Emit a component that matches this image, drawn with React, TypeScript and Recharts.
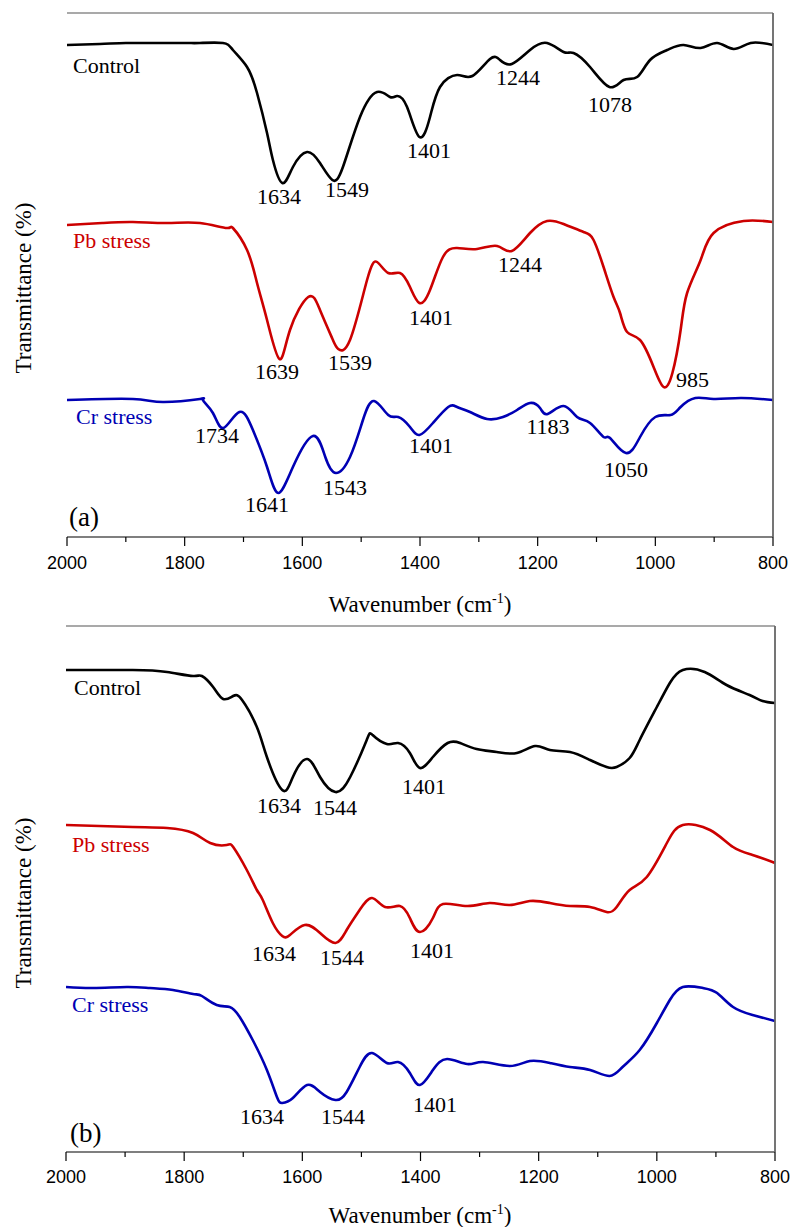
import React from 'react';
import { LineChart, Line, XAxis, YAxis } from 'recharts';

// ---------- data (wavenumber cm-1, transmittance in arbitrary offset units) ----------
const wavenumberTicks = [2000, 1900, 1800, 1700, 1600, 1500, 1400, 1300, 1200, 1100, 1000, 900, 800];
const seriesNames = ['Control', 'Pb stress', 'Cr stress'];

const controlA: [number, number][] = [
  [2000, 492], [1944, 493], [1900, 494], [1859, 494], [1800, 494], [1774, 494], [1735, 494], [1718, 487],
  [1694, 470], [1677, 444], [1660, 404], [1650, 377], [1634, 354], [1616, 370], [1592, 385], [1570, 374],
  [1549, 357], [1531, 370], [1502, 420], [1473, 445], [1451, 440], [1439, 441], [1422, 430], [1401, 400],
  [1383, 420], [1366, 450], [1337, 462], [1311, 461], [1281, 478], [1264, 477], [1244, 473], [1213, 487],
  [1184, 494], [1156, 485], [1139, 484], [1111, 470], [1078, 450], [1054, 457], [1031, 460], [1009, 477],
  [980, 487], [952, 492], [923, 489], [895, 494], [867, 488], [838, 494], [800, 492],
];
const pbA: [number, number][] = [
  [2000, 312], [1940, 314], [1888, 315], [1830, 314], [1774, 314], [1728, 309], [1718, 309], [1694, 287],
  [1677, 254], [1660, 217], [1639, 178], [1621, 207], [1590, 240], [1570, 227], [1548, 197], [1539, 188],
  [1519, 197], [1490, 257], [1473, 275], [1454, 264], [1434, 264], [1417, 250], [1401, 234], [1383, 247],
  [1361, 280], [1337, 289], [1303, 288], [1269, 291], [1244, 286], [1213, 304], [1184, 316], [1156, 313],
  [1122, 305], [1105, 297], [1088, 270], [1071, 240], [1060, 224], [1048, 205], [1026, 197], [1003, 170],
  [986, 150], [971, 164], [957, 207], [946, 244], [923, 277], [901, 304], [850, 316], [800, 315],
];
const crA: [number, number][] = [
  [2000, 137], [1888, 138], [1837, 135], [1774, 138], [1769, 137], [1752, 124], [1734, 109], [1707, 125],
  [1684, 107], [1660, 70], [1641, 44], [1616, 70], [1582, 101], [1561, 80], [1543, 64], [1519, 80],
  [1497, 117], [1478, 136], [1454, 122], [1437, 120], [1417, 110], [1401, 102], [1378, 114], [1352, 130],
  [1337, 130], [1315, 125], [1286, 118], [1259, 120], [1235, 127], [1213, 134], [1196, 129], [1183, 123],
  [1156, 131], [1133, 120], [1111, 114], [1088, 100], [1077, 99], [1050, 84], [1026, 100], [1000, 120],
  [974, 122], [957, 130], [932, 139], [901, 138], [855, 139], [800, 137],
];

const controlB: [number, number][] = [
  [2000, 482], [1887, 482], [1829, 480], [1785, 476], [1770, 476], [1751, 465], [1734, 453], [1717, 456],
  [1702, 452], [1677, 425], [1660, 395], [1634, 362], [1616, 375], [1592, 393], [1570, 375], [1544, 360],
  [1519, 375], [1491, 412], [1481, 417], [1457, 408], [1438, 409], [1418, 399], [1401, 384], [1379, 395],
  [1354, 409], [1333, 409], [1305, 403], [1271, 400], [1237, 399], [1206, 406], [1181, 402], [1147, 400],
  [1113, 392], [1085, 385], [1068, 385], [1046, 394], [1029, 412], [1000, 445], [978, 469], [956, 482],
  [919, 480], [882, 467], [843, 457], [821, 451], [800, 449],
];
const pbB: [number, number][] = [
  [2000, 327], [1887, 325], [1829, 324], [1785, 319], [1756, 309], [1728, 307], [1717, 305], [1694, 282],
  [1677, 262], [1667, 252], [1650, 229], [1634, 216], [1621, 217], [1596, 227], [1570, 219], [1544, 209],
  [1525, 222], [1503, 242], [1482, 254], [1460, 245], [1435, 246], [1418, 234], [1401, 220], [1379, 234],
  [1362, 248], [1321, 246], [1283, 249], [1249, 247], [1215, 251], [1181, 249], [1147, 246], [1113, 245],
  [1085, 240], [1068, 245], [1046, 262], [1017, 275], [983, 309], [956, 327], [910, 322], [871, 305],
  [838, 297], [800, 289],
];
const crB: [number, number][] = [
  [2000, 165], [1954, 164], [1897, 165], [1858, 164], [1819, 162], [1785, 158], [1770, 156], [1745, 147],
  [1723, 145], [1706, 135], [1684, 112], [1660, 82], [1643, 55], [1634, 49], [1616, 54], [1592, 67],
  [1570, 60], [1544, 52], [1525, 60], [1503, 85], [1482, 99], [1457, 89], [1438, 90], [1418, 79],
  [1401, 67], [1379, 82], [1355, 93], [1321, 88], [1294, 90], [1249, 86], [1215, 91], [1181, 89],
  [1147, 85], [1113, 82], [1080, 76], [1058, 85], [1029, 102], [1000, 129], [978, 152], [956, 165],
  [922, 164], [898, 159], [871, 145], [838, 137], [800, 131],
];

// peak labels (text) per panel
const peaksA = ['1634', '1549', '1401', '1244', '1078', '1639', '1539', '1401', '1244', '985', '1734', '1641', '1543', '1401', '1183', '1050'];
const peaksB = ['1634', '1544', '1401', '1634', '1544', '1401', '1634', '1544', '1401'];

// ---------- styling / layout ----------
const COLORS = ['#000000', '#cc0000', '#0000b4'];
const SERIF = '"Liberation Serif", "Times New Roman", serif';
const SANS = '"Liberation Sans", Arial, sans-serif';

const toRows = (pairs: [number, number][]) => pairs.map(([wn, t]) => ({ wn, t }));

const makeTick = (labelDy: number) => (props: any) => {
  const { x, y, payload } = props;
  const v = payload.value;
  const major = v % 200 === 0;
  return (
    <g>
      <line x1={x} y1={y} x2={x} y2={y + (major ? 9 : 5)} stroke="#000" strokeWidth={1.2} />
      {major && (
        <text x={x} y={y + labelDy} textAnchor="middle" fontFamily={SANS} fontSize={18} fill="#000">
          {v}
        </text>
      )}
    </g>
  );
};

type PanelProps = {
  top: number;
  height: number;
  margin: { top: number; right: number; left: number; bottom: number };
  axisHeight: number;
  yMax: number;
  series: [number, number][][];
  labelDy: number;
};

const Panel = ({ top, height, margin, axisHeight, yMax, series, labelDy }: PanelProps) => (
  <div style={{ position: 'absolute', left: 0, top }}>
    <LineChart width={792} height={height} margin={margin}>
      <XAxis
        dataKey="wn"
        type="number"
        domain={[800, 2000]}
        reversed
        ticks={wavenumberTicks}
        interval={0}
        tick={makeTick(labelDy)}
        tickLine={false}
        tickSize={0}
        tickMargin={0}
        height={axisHeight}
        axisLine={{ stroke: '#000', strokeWidth: 1.2 }}
        allowDataOverflow
      />
      <YAxis domain={[0, yMax]} tick={false} tickLine={false} width={0} axisLine={{ stroke: '#000', strokeWidth: 1.2 }} allowDataOverflow />
      {series.map((s, i) => (
        <Line
          key={seriesNames[i]}
          name={seriesNames[i]}
          data={toRows(s)}
          dataKey="t"
          type="natural"
          stroke={COLORS[i]}
          strokeWidth={2.6}
          dot={false}
          isAnimationActive={false}
        />
      ))}
    </LineChart>
  </div>
);

type Ann = { text: string; x: number; y: number; anchor?: 'start' | 'middle' | 'end'; color?: string; size?: number };

const annA: Ann[] = [
  { text: seriesNames[0], x: 73, y: 73, anchor: 'start', color: COLORS[0] },
  { text: peaksA[0], x: 279, y: 204 },
  { text: peaksA[1], x: 347, y: 197 },
  { text: peaksA[2], x: 429, y: 158 },
  { text: peaksA[3], x: 518, y: 85 },
  { text: peaksA[4], x: 610, y: 112 },
  { text: seriesNames[1], x: 73, y: 248, anchor: 'start', color: COLORS[1] },
  { text: peaksA[5], x: 277, y: 379 },
  { text: peaksA[6], x: 350, y: 370 },
  { text: peaksA[7], x: 431, y: 325 },
  { text: peaksA[8], x: 520, y: 272 },
  { text: peaksA[9], x: 676, y: 387, anchor: 'start' },
  { text: seriesNames[2], x: 76, y: 424, anchor: 'start', color: COLORS[2] },
  { text: peaksA[10], x: 217, y: 443 },
  { text: peaksA[11], x: 267, y: 512 },
  { text: peaksA[12], x: 345, y: 495 },
  { text: peaksA[13], x: 431, y: 453 },
  { text: peaksA[14], x: 548, y: 434 },
  { text: peaksA[15], x: 626, y: 477 },
  { text: '(a)', x: 69, y: 526, anchor: 'start', size: 27 },
];

const annB: Ann[] = [
  { text: seriesNames[0], x: 74, y: 695, anchor: 'start', color: COLORS[0] },
  { text: peaksB[0], x: 279, y: 813 },
  { text: peaksB[1], x: 335, y: 815 },
  { text: peaksB[2], x: 424, y: 794 },
  { text: seriesNames[1], x: 72, y: 852, anchor: 'start', color: COLORS[1] },
  { text: peaksB[3], x: 274, y: 961 },
  { text: peaksB[4], x: 342, y: 965 },
  { text: peaksB[5], x: 432, y: 958 },
  { text: seriesNames[2], x: 72, y: 1012, anchor: 'start', color: COLORS[2] },
  { text: peaksB[6], x: 262, y: 1124 },
  { text: peaksB[7], x: 343, y: 1124 },
  { text: peaksB[8], x: 435, y: 1112 },
  { text: '(b)', x: 70, y: 1142, anchor: 'start', size: 27 },
];

const XTitle = ({ y }: { y: number }) => (
  <text x={420} y={y} textAnchor="middle" fontFamily={SERIF} fontSize={23} fill="#000">
    Wavenumber (cm
    <tspan dy={-9} fontSize={14}>-1</tspan>
    <tspan dy={9} fontSize={23}>)</tspan>
  </text>
);

const YTitle = ({ cy }: { cy: number }) => (
  <text
    x={0}
    y={0}
    transform={`translate(31, ${cy}) rotate(-90)`}
    textAnchor="middle"
    fontFamily={SERIF}
    fontSize={23}
    fill="#000"
  >
    Transmittance (%)
  </text>
);

// plot frame (top and right sides)
const frames = [
  { left: 67, right: 773, top: 13, bottom: 537 },
  { left: 66, right: 775, top: 626, bottom: 1152 },
];

export default function App() {
  return (
    <div style={{ position: 'absolute', left: 0, top: 0, width: 792, height: 1227, background: '#fff' }}>
      <Panel
        top={0}
        height={615}
        margin={{ top: 13, right: 19, left: 67, bottom: 0 }}
        axisHeight={78}
        yMax={524}
        series={[controlA, pbA, crA]}
        labelDy={32}
      />
      <Panel
        top={615}
        height={612}
        margin={{ top: 11, right: 17, left: 66, bottom: 0 }}
        axisHeight={75}
        yMax={526}
        series={[controlB, pbB, crB]}
        labelDy={31}
      />
      <svg width={792} height={1227} style={{ position: 'absolute', left: 0, top: 0, pointerEvents: 'none' }}>
        {frames.map((f, i) => (
          <g key={i}>
            <line x1={f.left} y1={f.top} x2={f.right} y2={f.top} stroke="#555" strokeWidth={1.2} />
            <line x1={f.right} y1={f.top} x2={f.right} y2={f.bottom} stroke="#666" strokeWidth={1.8} />
          </g>
        ))}
        {[...annA, ...annB].map((a, i) => (
          <text
            key={i}
            x={a.x}
            y={a.y}
            textAnchor={a.anchor ?? 'middle'}
            fontFamily={SERIF}
            fontSize={a.size ?? 22}
            fill={a.color ?? '#000'}
          >
            {a.text}
          </text>
        ))}
        <XTitle y={612} />
        <XTitle y={1223} />
        <YTitle cy={288} />
        <YTitle cy={903} />
      </svg>
    </div>
  );
}
